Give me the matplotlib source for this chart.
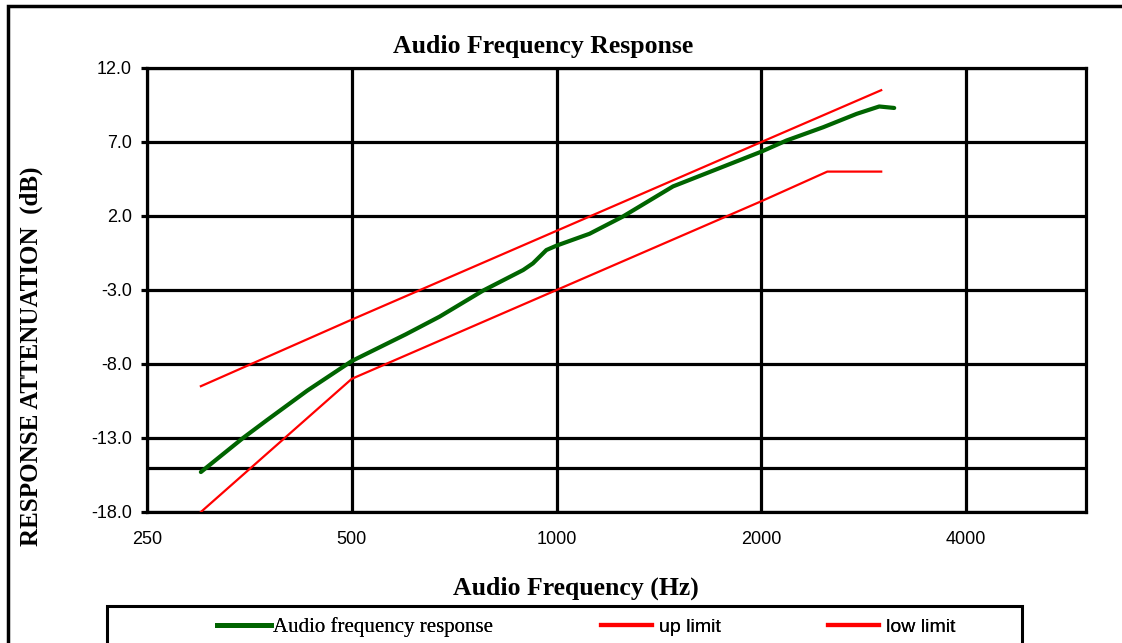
import matplotlib
matplotlib.use("Agg")
import matplotlib.pyplot as plt
from matplotlib.lines import Line2D
from matplotlib.patches import Rectangle
from matplotlib.ticker import FixedLocator, FixedFormatter, NullLocator

# ---- data ----
resp_freq = [300, 346, 375, 430, 500, 600, 673, 779, 893, 923, 966, 1000,
             1118, 1250, 1483, 2000, 2177, 2466, 2760, 2980, 3135]
resp_db = [-15.3, -13.0, -11.8, -9.8, -7.8, -6.0, -4.8, -3.05, -1.65, -1.2, -0.3, 0.0,
           0.8, 1.95, 4.0, 6.35, 7.1, 8.0, 8.9, 9.4, 9.3]

up_freq = [300, 500, 1000, 2000, 3000]
up_db = [-9.5, -5.0, 1.0, 7.0, 10.5]

low_freq = [300, 500, 1000, 2000, 2500, 3000]
low_db = [-18.0, -9.0, -3.0, 3.0, 5.0, 5.0]

x_ticks = [250, 500, 1000, 2000, 4000]
x_ticklabels = ["250", "500", "1000", "2000", "4000"]
y_ticks = [-18.0, -13.0, -8.0, -3.0, 2.0, 7.0, 12.0]
extra_hline = -15.0

W, H = 1122, 643
fig = plt.figure(figsize=(W / 100, H / 100), dpi=100)

def fx(px):
    return px / W

def fy(py):
    return 1 - py / H

L, R, T, B = 147, 1086, 68, 512
ax = fig.add_axes([fx(L), fy(B), fx(R) - fx(L), fy(T) - fy(B)])

SERIF = ["Liberation Serif", "DejaVu Serif"]
SANS = ["Liberation Sans Narrow", "Liberation Sans", "DejaVu Sans"]

lw_grid = 2.3
ax.set_xscale("log", base=2)
ax.set_xlim(250, 6000)
ax.set_ylim(-18, 12)
ax.xaxis.set_major_locator(FixedLocator(x_ticks))
ax.xaxis.set_major_formatter(FixedFormatter(x_ticklabels))
ax.xaxis.set_minor_locator(NullLocator())
ax.set_yticks(y_ticks)
ax.set_yticklabels([f"{v:.1f}" for v in y_ticks])

ax.grid(True, color="black", linewidth=lw_grid)
ax.axhline(extra_hline, color="black", linewidth=lw_grid, zorder=1)
for s in ax.spines.values():
    s.set_linewidth(lw_grid)
    s.set_color("black")
ax.set_axisbelow(True)

ax.tick_params(axis="y", length=4, width=lw_grid, pad=7, labelsize=13)
ax.tick_params(axis="x", length=0, pad=14, labelsize=13)
for lab in ax.get_xticklabels() + ax.get_yticklabels():
    lab.set_family(SANS)

GREEN = "#006400"
RED = "#ff0000"
l_resp, = ax.plot(resp_freq, resp_db, color=GREEN, linewidth=3.0, zorder=3,
                  solid_capstyle="round")
l_up, = ax.plot(up_freq, up_db, color=RED, linewidth=1.6, zorder=3)
l_low, = ax.plot(low_freq, low_db, color=RED, linewidth=1.6, zorder=3)

# titles
fig.text(fx(543), fy(47), "Audio Frequency Response", ha="center", va="center",
         family=SERIF, weight="bold", fontsize=18.5)
fig.text(fx(576), fy(588), "Audio Frequency (Hz)", ha="center", va="center",
         family=SERIF, weight="bold", fontsize=18.5)
fig.text(fx(31), fy(356), "RESPONSE ATTENUATION  (dB)", ha="center", va="center",
         rotation=90, family=SERIF, weight="bold", fontsize=18)

# outer frame (cropped at right/bottom)
fig.add_artist(Rectangle((fx(8), fy(700)), 1.2, fy(6) - fy(700), transform=fig.transFigure,
                         fill=False, edgecolor="black", linewidth=2.5, clip_on=False))
# legend frame (cropped at bottom)
fig.add_artist(Rectangle((fx(107), fy(700)), fx(1022) - fx(107), fy(606) - fy(700),
                         transform=fig.transFigure, fill=False, edgecolor="black",
                         linewidth=2.2, clip_on=False))

h_resp = Line2D([], [], color=GREEN, linewidth=3.5)
h_up = Line2D([], [], color=RED, linewidth=3.0)
h_low = Line2D([], [], color=RED, linewidth=3.0)
entries = [(h_resp, "Audio frequency response", 217, SERIF, 15, 0.1),
           (h_up, "up limit", 601, SANS, 14, 0.4),
           (h_low, "low limit", 828, SANS, 14, 0.4)]
for handle, label, px, fam, fs, pad in entries:
    leg = fig.legend([handle], [label], loc="center left",
                     bbox_to_anchor=(fx(px), fy(627)), frameon=False,
                     handlelength=2.6, handletextpad=pad, borderpad=0, borderaxespad=0,
                     prop={"family": fam, "size": fs})
    fig.add_artist(leg)

fig.savefig("out.png", dpi=100)
